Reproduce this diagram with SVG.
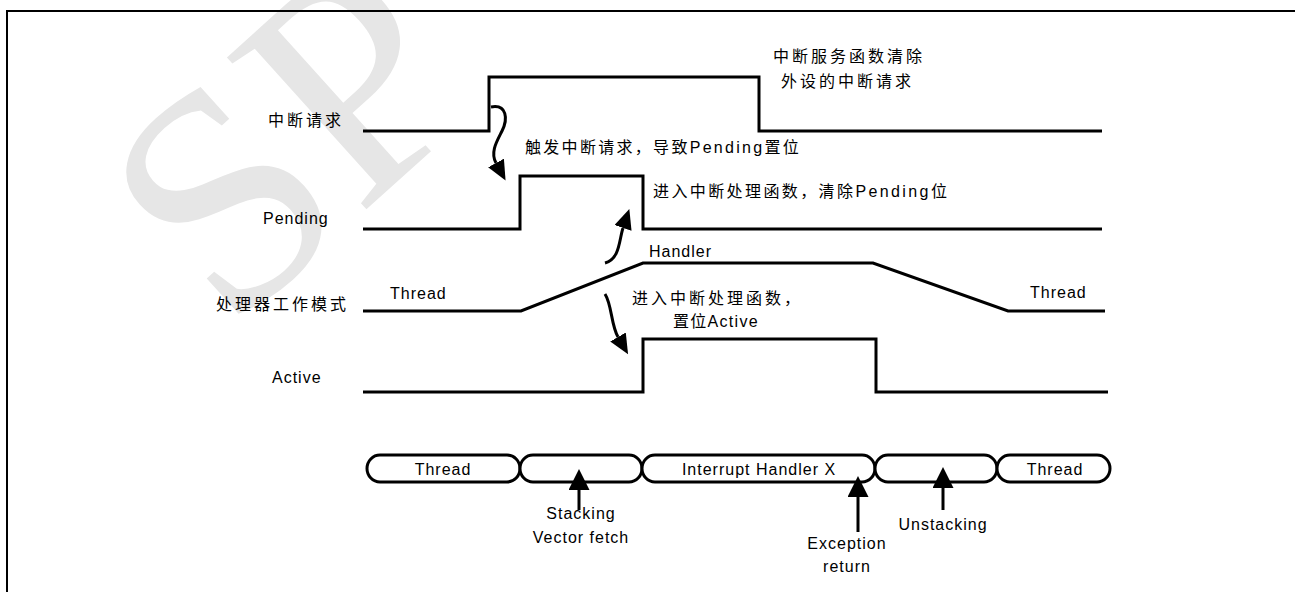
<svg xmlns="http://www.w3.org/2000/svg" width="1295" height="592" viewBox="0 0 1295 592">
<defs>
<style>
.sig{fill:none;stroke:#000;stroke-width:3;stroke-linejoin:miter}
.en{font-family:"Liberation Sans","Noto Sans CJK SC",sans-serif;font-size:16px;letter-spacing:1px;fill:#000}
.cn{font-family:"Liberation Sans","Noto Sans CJK SC",sans-serif;font-size:16px;letter-spacing:3px;fill:#000}
.mid{text-anchor:middle}
.pill{fill:#fff;stroke:#000;stroke-width:3}
.arr{fill:none;stroke:#000;stroke-width:3}
.wm{font-family:"Liberation Serif",serif;font-size:315px;fill:#e6e6e6}
</style>
<marker id="curveHead" viewBox="0 0 20 18" refX="0" refY="9" markerWidth="20" markerHeight="18" markerUnits="userSpaceOnUse" orient="auto">
<path d="M0,0 L20,9 L0,18 z" fill="#000"/>
</marker>
<marker id="upHead" viewBox="0 0 21 21" refX="0" refY="10.5" markerWidth="21" markerHeight="21" markerUnits="userSpaceOnUse" orient="auto">
<path d="M0,0 L21,10.5 L0,21 z" fill="#000"/>
</marker>
</defs>
<rect width="1295" height="592" fill="#fff"/>
<g id="watermark">
<text class="wm" transform="translate(228,334) rotate(-42)">SP</text>
</g>
<rect id="frame" x="7" y="11" width="1300" height="600" fill="none" stroke="#000" stroke-width="2"/>

<g id="sig-irq">
<text class="cn" x="268" y="126">中断请求</text>
<path class="sig" d="M363,131 H489 V77 H759 V131 H1102"/>
</g>
<g id="sig-pending">
<text class="en" x="263" y="224">Pending</text>
<path class="sig" d="M363,229 H520 V176 H643 V229 H1102"/>
</g>
<g id="sig-mode">
<text class="cn" x="216" y="310">处理器工作模式</text>
<text class="en" x="390" y="299">Thread</text>
<text class="en" x="649" y="257">Handler</text>
<text class="en" x="1030" y="298">Thread</text>
<path class="sig" d="M363,311 H521 L643,263 H873 L1008,311 H1105"/>
</g>
<g id="sig-active">
<text class="en" x="272" y="383">Active</text>
<path class="sig" d="M363,392 H643 V339 H876 V392 H1108"/>
</g>

<g id="notes">
<text class="cn" x="773" y="62">中断服务函数清除</text>
<text class="cn" x="781" y="87">外设的中断请求</text>
<text class="cn" x="525" y="153" style="letter-spacing:2.3px">触发中断请求，导致Pending置位</text>
<text class="cn" x="653" y="197" style="letter-spacing:2.4px">进入中断处理函数，清除Pending位</text>
<text class="cn" x="632" y="304">进入中断处理函数，</text>
<text class="cn" x="673" y="327" style="letter-spacing:1.3px">置位Active</text>
</g>

<g id="bar">
<g id="seg-thread1"><rect class="pill" x="367" y="455" width="153" height="27" rx="13" ry="13.5"/><text class="en mid" x="443" y="475">Thread</text></g>
<g id="seg-stacking"><rect class="pill" x="520" y="455" width="122" height="27" rx="13" ry="13.5"/></g>
<g id="seg-handler"><rect class="pill" x="642" y="455" width="233" height="27" rx="13" ry="13.5"/><text class="en mid" x="759" y="475">Interrupt Handler X</text></g>
<g id="seg-unstacking"><rect class="pill" x="875" y="455" width="122" height="27" rx="13" ry="13.5"/></g>
<g id="seg-thread2"><rect class="pill" x="997" y="455" width="113" height="27" rx="13" ry="13.5"/><text class="en mid" x="1055" y="475">Thread</text></g>
</g>

<g id="bar-labels">
<text class="en mid" x="581" y="519">Stacking</text>
<text class="en mid" x="581" y="543">Vector fetch</text>
<text class="en mid" x="847" y="549">Exception</text>
<text class="en mid" x="847" y="572">return</text>
<text class="en mid" x="943" y="530">Unstacking</text>
</g>

<g id="connectors">
<path class="arr" d="M491,107 C507,104 508,119 502,131 C497,141 490,152 496,163" marker-end="url(#curveHead)"/>
<path class="arr" d="M605,263 C620,259 619,240 623,228" marker-end="url(#curveHead)"/>
<path class="arr" d="M605,294 C612,305 611,325 618,337" marker-end="url(#curveHead)"/>
<path class="arr" d="M579,510 V490" marker-end="url(#upHead)"/>
<path class="arr" d="M858,532 V497" marker-end="url(#upHead)"/>
<path class="arr" d="M943,510 V488" marker-end="url(#upHead)"/>
</g>
</svg>
